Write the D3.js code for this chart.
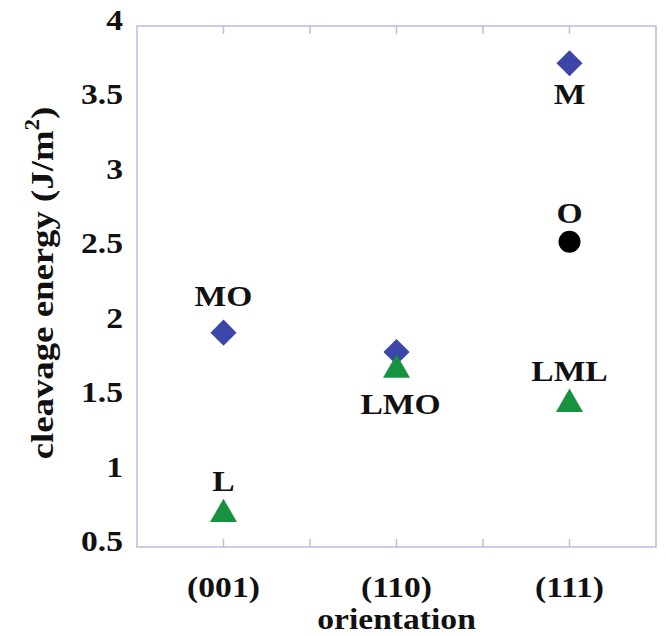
<!DOCTYPE html>
<html>
<head>
<meta charset="utf-8">
<script src="https://cdn.jsdelivr.net/npm/d3@7"></script>
<style>
  body { margin: 0; background: #fff; }
</style>
</head>
<body>
<div id="chart"></div>
<script>
// orientations on the x axis
const orientations = ['(001)', '(110)', '(111)'];
const yTicks = [0.5, 1, 1.5, 2, 2.5, 3, 3.5, 4];

// terminations: orientation index, energy, marker, label, label side
const terms   = ['MO', 'L', 'LMO', 'LMO', 'M', 'O', 'LML'];
const termX   = [1, 1, 2, 2, 3, 3, 3];
const energy  = [1.94, 0.72, 1.81, 1.69, 3.75, 2.55, 1.46];
const shapes  = ['diamond', 'triangle', 'diamond', 'triangle', 'diamond', 'circle', 'triangle'];
const labels  = ['MO', 'L', '', 'LMO', 'M', 'O', 'LML'];
const sides   = ['above', 'above', '', 'below', 'below', 'above', 'above'];

const width = 666, height = 636;
const stretch = 1.12; // the original font runs a little wide

const svg = d3.select('#chart').append('svg')
  .attr('width', width)
  .attr('height', height)
  .attr('font-family', 'Liberation Serif, Times New Roman, serif')
  .attr('font-weight', 'bold')
  .attr('fill', '#111');

const x = d3.scaleLinear().domain([0.5, 3.5]).range([137, 656]);
const y = d3.scaleLinear().domain([0.5, 4]).range([547, 26]);

const frame = '#bcbce0';

// frame
svg.append('rect')
  .attr('x', x(0.5)).attr('y', y(4))
  .attr('width', x(3.5) - x(0.5))
  .attr('height', y(0.5) - y(4))
  .attr('fill', 'none')
  .attr('stroke', frame)
  .attr('stroke-width', 1.5);

// inward ticks on bottom and top
const xTicks = [1, 1.5, 2, 2.5, 3];
svg.append('g').selectAll('line')
  .data(xTicks).join('line')
  .attr('x1', d => x(d)).attr('x2', d => x(d))
  .attr('y1', y(0.5)).attr('y2', y(0.5) - 8)
  .attr('stroke', frame).attr('stroke-width', 1.5);
svg.append('g').selectAll('line')
  .data(xTicks).join('line')
  .attr('x1', d => x(d)).attr('x2', d => x(d))
  .attr('y1', y(4)).attr('y2', y(4) + 8)
  .attr('stroke', frame).attr('stroke-width', 1.5);

function wide(sel, px, py, rot, s) {
  return sel.attr('transform', `translate(${px},${py})` + (rot ? ` rotate(${rot})` : '') + ` scale(${s || stretch},1)`);
}

// y tick labels
svg.append('g').selectAll('text')
  .data(yTicks).join('text')
  .attr('text-anchor', 'end')
  .attr('font-size', 30)
  .text(d => d)
  .each(function(d) { wide(d3.select(this), 123, y(d) + 4); });

// x tick labels
svg.append('g').selectAll('text')
  .data(orientations).join('text')
  .attr('text-anchor', 'middle')
  .attr('font-size', 30)
  .text(d => d)
  .each(function(d, i) { wide(d3.select(this), x(i + 1), 597); });

// axis titles
wide(svg.append('text'), x(2), 629)
  .attr('text-anchor', 'middle')
  .attr('font-size', 30)
  .text('orientation');

const yTitle = wide(svg.append('text'), 53, 283, -90, 1.15)
  .attr('text-anchor', 'middle')
  .attr('font-size', 32);
yTitle.append('tspan').text('cleavage energy (J/m');
yTitle.append('tspan').attr('dy', -14).attr('font-size', 20).text('2');
yTitle.append('tspan').attr('dy', 14).text(')');

// markers
const colors = { diamond: '#3c46a8', triangle: '#17923f', circle: '#000' };
const sym = {
  diamond: d3.symbol(d3.symbolSquare, 340)(),
  triangle: d3.symbol(d3.symbolTriangle, 315)(),
  circle: d3.symbol(d3.symbolCircle, 380)()
};

const pts = terms.map((t, i) => ({ i, xv: termX[i], e: energy[i], shape: shapes[i] }));

svg.append('g').selectAll('path')
  .data(pts).join('path')
  .attr('d', d => sym[d.shape])
  .attr('fill', d => colors[d.shape])
  .attr('transform', d => `translate(${x(d.xv)},${y(d.e)})` + (d.shape === 'diamond' ? ' rotate(45)' : ''));

// labels next to markers
const offAbove = { diamond: -27, triangle: -23, circle: -19 };
const offBelow = { diamond: 41, triangle: 44, circle: 40 };

svg.append('g').selectAll('text')
  .data(pts.filter(d => labels[d.i])).join('text')
  .attr('text-anchor', 'middle')
  .attr('font-size', 30)
  .text(d => labels[d.i])
  .each(function(d) {
    const dy = sides[d.i] === 'above' ? offAbove[d.shape] : offBelow[d.shape];
    wide(d3.select(this), x(d.xv) + (labels[d.i] === 'LMO' ? 4 : 0), y(d.e) + dy);
  });
</script>
</body>
</html>
